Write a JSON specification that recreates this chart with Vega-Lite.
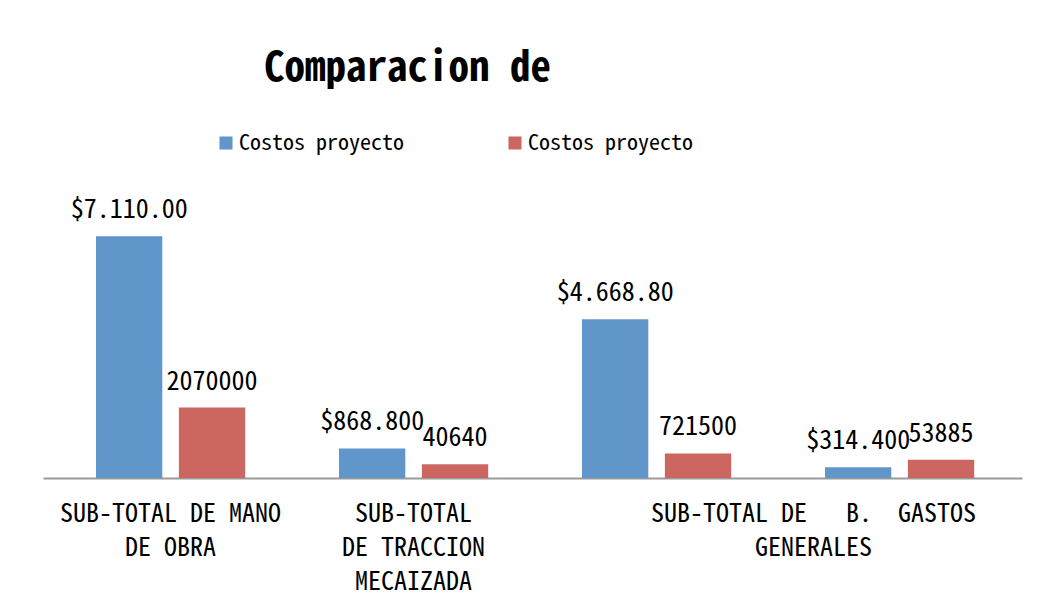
{
  "$schema": "https://vega.github.io/schema/vega-lite/v6.json",
  "width": 979,
  "height": 272,
  "autosize": {"type": "none"},
  "padding": {"left": 43, "top": 206, "right": 40, "bottom": 125},
  "background": "white",
  "config": {
    "view": {"stroke": null},
    "font": "Noto Sans Mono CJK JP, Noto Sans CJK JP, monospace"
  },
  "title": {
    "text": "Comparacion de",
    "font": "Noto Sans Mono CJK JP, Noto Sans CJK JP, monospace",
    "fontSize": 41,
    "fontWeight": "bold",
    "color": "black",
    "anchor": "start",
    "frame": "group",
    "dx": 221,
    "offset": 42
  },
  "data": {
    "values": [
      {"cat": "SUB-TOTAL DE MANO|DE OBRA", "serie": "Costos proyecto 1", "valor": 7110000, "etiqueta": "$7.110.00"},
      {"cat": "SUB-TOTAL DE MANO|DE OBRA", "serie": "Costos proyecto 2", "valor": 2070000, "etiqueta": "2070000"},
      {"cat": "SUB-TOTAL|DE TRACCION|MECAIZADA", "serie": "Costos proyecto 1", "valor": 868800, "etiqueta": "$868.800"},
      {"cat": "SUB-TOTAL|DE TRACCION|MECAIZADA", "serie": "Costos proyecto 2", "valor": 406400, "etiqueta": "40640"},
      {"cat": "SUB-TOTAL DE\u00a0\u00a0\u00a0B.\u00a0\u00a0GASTOS|GENERALES", "serie": "Costos proyecto 1", "valor": 4668800, "etiqueta": "$4.668.80"},
      {"cat": "SUB-TOTAL DE\u00a0\u00a0\u00a0B.\u00a0\u00a0GASTOS|GENERALES", "serie": "Costos proyecto 2", "valor": 721500, "etiqueta": "721500"},
      {"cat": "", "serie": "Costos proyecto 1", "valor": 314400, "etiqueta": "$314.400"},
      {"cat": "", "serie": "Costos proyecto 2", "valor": 538850, "etiqueta": "53885"}
    ]
  },
  "encoding": {
    "x": {
      "field": "cat",
      "type": "nominal",
      "sort": null,
      "scale": {"paddingInner": 0, "paddingOuter": 0.0144, "align": 0.87},
      "axis": {
        "title": null,
        "labelAngle": 0,
        "labelExpr": "split(datum.value, '|')",
        "labelFont": "Noto Sans Mono CJK JP, Noto Sans CJK JP, monospace",
        "labelFontSize": 26,
        "labelColor": "black",
        "labelLineHeight": 34,
        "labelPadding": 22,
        "labelLimit": 0,
        "labelBaseline": "top",
        "labelOffset": {"condition": {"test": "indexof(datum.value, 'GENERALES') >= 0", "value": 157}, "value": 0},
        "ticks": false,
        "domainColor": "#9a9a9a",
        "domainWidth": 2
      }
    },
    "xOffset": {
      "field": "serie",
      "type": "nominal",
      "scale": {"paddingInner": 0.2, "paddingOuter": 0.566}
    },
    "y": {
      "field": "valor",
      "type": "quantitative",
      "scale": {"domain": [0, 8000000], "nice": false},
      "axis": null
    }
  },
  "layer": [
    {
      "mark": {"type": "bar"},
      "encoding": {
        "color": {
          "field": "serie",
          "type": "nominal",
          "scale": {"domain": ["Costos proyecto 1", "Costos proyecto 2"], "range": ["#6196CA", "#CC6660"]},
          "legend": {
            "title": null,
            "orient": "none",
            "legendX": 172,
            "legendY": -74,
            "direction": "horizontal",
            "columns": 2,
            "columnPadding": 99,
            "padding": 0,
            "symbolType": "square",
            "symbolSize": 170,
            "symbolStrokeWidth": 0,
            "labelOffset": 2,
            "labelFont": "Noto Sans Mono CJK JP, Noto Sans CJK JP, monospace",
            "labelFontSize": 22,
            "labelColor": "black",
            "labelLimit": 0,
            "labelExpr": "'Costos proyecto'"
          }
        }
      }
    },
    {
      "mark": {"type": "text", "align": "center", "baseline": "alphabetic", "dy": -18, "fontSize": 26, "color": "black"},
      "encoding": {"text": {"field": "etiqueta"}}
    }
  ]
}
